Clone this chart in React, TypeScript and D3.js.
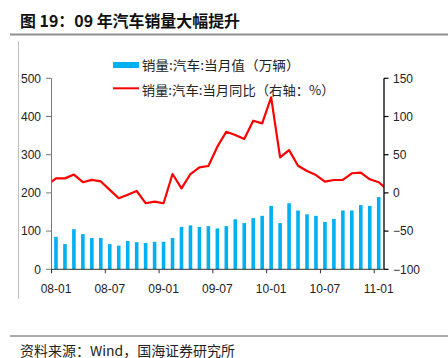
import React from "react";
import * as d3 from "d3";

const months = [
  "08-01","08-02","08-03","08-04","08-05","08-06","08-07","08-08","08-09","08-10","08-11","08-12",
  "09-01","09-02","09-03","09-04","09-05","09-06","09-07","09-08","09-09","09-10","09-11","09-12",
  "10-01","10-02","10-03","10-04","10-05","10-06","10-07","10-08","10-09","10-10","10-11","10-12",
  "11-01",
];
const tickMonths = ["08-01","08-07","09-01","09-07","10-01","10-07","11-01"];
// 销量:汽车:当月值（万辆）
const sales = [
  85,66,105,92,82,82,66,62,74,71,69,72,
  72,82,111,115,111,113,107,113,131,121,134,140,
  166,121,173,154,144,140,124,132,154,154,168,166,
  189,
];
// 销量:汽车:当月同比（%）
const yoy = [
  19,19,24,14,17,15,4,-7,-2.5,2.5,-13.5,-11.5,
  -13.5,24.7,6,24.7,33.5,35.2,60.5,80,75.8,70.5,94.5,91,
  125,46.6,56,35.6,28.7,23.4,14.7,16.9,16.9,25.7,26.5,17.8,
  13.9,
];
const yoyBefore = 10; // 07-12 (clipped at the axis)
const yoyAfter = 4; // 11-02 (clipped at the axis)
const leftTicks = [0,100,200,300,400,500];
const rightTicks = [-100,-50,0,50,100,150];

const W = 448, H = 358;
const P = { left: 51.5, right: 383.2, top: 78.3, bottom: 269.3, rAxis: 384 };
const BLUE = "#00B0F0";
const RED = "#FF0000";
const CJK = "'Noto Sans CJK SC', 'Noto Sans', sans-serif";
const NUM = "'Liberation Sans', Arial, sans-serif";

export default function App() {
  const x = d3.scaleBand<string>().domain(months).range([P.left, P.right]).padding(0);
  const step = x.step();
  const cx = (m: string) => (x(m) as number) + step / 2;
  const yL = d3.scaleLinear().domain([0, 500]).range([P.bottom, P.top]);
  const yR = d3.scaleLinear().domain([-100, 150]).range([P.bottom, P.top]);
  const fmt = d3.format("d");
  const bw = step * 0.4;

  const pts: [number, number][] = [
    [cx(months[0]) - step, yR(yoyBefore)],
    ...months.map((m, i) => [cx(m), yR(yoy[i])] as [number, number]),
    [cx(months[months.length - 1]) + step, yR(yoyAfter)],
  ];
  const linePath = d3.line()(pts) || "";

  return (
    <svg width={W} height={H} style={{ position: "absolute", left: 0, top: 0, display: "block", background: "#fff" }}>
      <defs>
        <clipPath id="plotClip">
          <rect x={P.left} y={0} width={P.rAxis - P.left} height={H} />
        </clipPath>
      </defs>
      <rect width={W} height={H} fill="#fff" />
      {/* title */}
      <text x={20} y={26.5} fontFamily={CJK} fontWeight="bold" fontSize={16} fill="#111" textLength={220} lengthAdjust="spacingAndGlyphs">图 19：09 年汽车销量大幅提升</text>
      <line x1={10} x2={W} y1={34.5} y2={34.5} stroke="#8f8f8f" strokeWidth={2} />
      <line x1={18.5} x2={18.5} y1={41} y2={299} stroke="#c0c0c0" strokeWidth={1} />

      {/* legend */}
      <rect x={113} y={62} width={26} height={6} fill={BLUE} />
      <text x={141.7} y={69.5} fontFamily={CJK} fontSize={13} fill="#222" textLength={158} lengthAdjust="spacingAndGlyphs">销量:汽车:当月值（万辆）</text>
      <line x1={113} x2={139} y1={88.3} y2={88.3} stroke={RED} strokeWidth={2} />
      <text x={141.7} y={94.5} fontFamily={CJK} fontSize={13} fill="#222" textLength={193} lengthAdjust="spacingAndGlyphs">销量:汽车:当月同比（右轴：%）</text>

      {/* bars */}
      {months.map((m, i) => (
        <rect key={m} x={cx(m) - bw / 2} y={yL(sales[i])} width={bw} height={yL(0) - yL(sales[i])} fill={BLUE} />
      ))}

      {/* line */}
      <path d={linePath} fill="none" stroke={RED} strokeWidth={2.2} strokeLinejoin="round" clipPath="url(#plotClip)" />

      {/* left axis */}
      <line x1={P.left} x2={P.left} y1={P.top} y2={P.bottom} stroke="#777" strokeWidth={1} />
      {leftTicks.map((t) => (
        <g key={"l" + t}>
          <line x1={P.left - 5.5} x2={P.left} y1={yL(t)} y2={yL(t)} stroke="#777" />
          <text x={41} y={yL(t) + 4.3} textAnchor="end" fontFamily={NUM} fontSize={12} fill="#222">{fmt(t)}</text>
        </g>
      ))}

      {/* right axis */}
      <line x1={P.rAxis} x2={P.rAxis} y1={P.top} y2={P.bottom} stroke="#000" strokeWidth={1.3} />
      {rightTicks.map((t) => (
        <g key={"r" + t}>
          <line x1={P.rAxis} x2={P.rAxis + 4.5} y1={yR(t)} y2={yR(t)} stroke="#000" strokeWidth={1.2} />
          <text x={393} y={yR(t) + 4.3} textAnchor="start" fontFamily={NUM} fontSize={12} fill="#222">{fmt(t)}</text>
        </g>
      ))}

      {/* bottom axis */}
      <line x1={P.left} x2={P.rAxis} y1={P.bottom} y2={P.bottom} stroke="#333" strokeWidth={1} />
      {tickMonths.map((m) => (
        <g key={"b" + m}>
          <line x1={x(m) as number} x2={x(m) as number} y1={P.bottom} y2={P.bottom + 4} stroke="#333" />
          <text x={cx(m)} y={293} textAnchor="middle" fontFamily={NUM} fontSize={12} fill="#222">{m}</text>
        </g>
      ))}

      {/* footer */}
      <line x1={10} x2={W} y1={336} y2={336} stroke="#555" strokeWidth={1} />
      <text x={20} y={355.5} fontFamily={CJK} fontSize={13.5} fill="#222" textLength={215} lengthAdjust="spacingAndGlyphs">资料来源：Wind，国海证券研究所</text>
    </svg>
  );
}
